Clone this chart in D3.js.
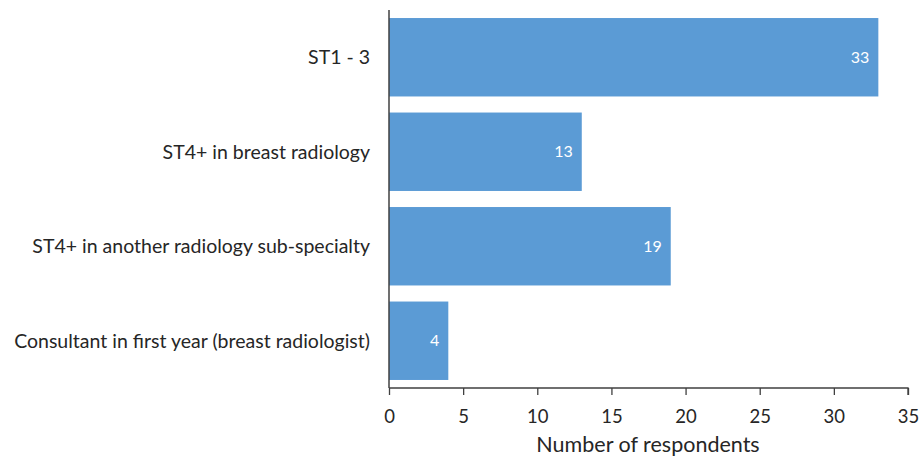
<!DOCTYPE html>
<html>
<head>
<meta charset="utf-8">
<script src="https://cdn.jsdelivr.net/npm/d3@7"></script>
<style>
  body { margin: 0; background: #fff; }
  svg text { font-family: Lato, "Open Sans", sans-serif; fill: #262626; }
</style>
</head>
<body>
<svg width="919" height="457"></svg>
<script>
// categories and counts, top to bottom
var categories = ["ST1 - 3", "ST4+ in breast radiology", "ST4+ in another radiology sub-specialty", "Consultant in first year (breast radiologist)"];
var counts = [33, 13, 19, 4];
var xTicks = [0, 5, 10, 15, 20, 25, 30, 35];
var xTitle = "Number of respondents";

var data = categories.map(function(c, i) { return {name: c, value: counts[i]}; });

var svg = d3.select("svg");
var plotLeft = 389, plotRight = 908, plotTop = 10, plotBottom = 388;

var x = d3.scaleLinear().domain([0, 35]).range([plotLeft, plotRight]);
var y = d3.scaleBand().domain(categories).range([plotTop, plotBottom]).paddingInner(0.17).paddingOuter(0.085);

// bars
svg.selectAll("rect.bar")
  .data(data)
  .enter()
  .append("rect")
    .attr("class", "bar")
    .attr("x", x(0))
    .attr("y", function(d) { return y(d.name); })
    .attr("width", function(d) { return x(d.value) - x(0); })
    .attr("height", y.bandwidth())
    .attr("fill", "#5b9bd5");

// value labels inside bar ends
svg.selectAll("text.val")
  .data(data)
  .enter()
  .append("text")
    .attr("class", "val")
    .attr("x", function(d) { return x(d.value) - 9; })
    .attr("y", function(d) { return y(d.name) + y.bandwidth() / 2; })
    .attr("dy", "0.35em")
    .attr("text-anchor", "end")
    .style("fill", "#fff")
    .style("font-size", "16px")
    .text(function(d) { return d.value; });

// category labels
svg.selectAll("text.cat")
  .data(data)
  .enter()
  .append("text")
    .attr("class", "cat")
    .attr("x", plotLeft - 19)
    .attr("y", function(d) { return y(d.name) + y.bandwidth() / 2; })
    .attr("dy", "0.35em")
    .attr("text-anchor", "end")
    .style("font-size", "19.5px")
    .text(function(d) { return d.name; });

// x axis
var xAxis = svg.append("g")
  .attr("transform", "translate(0," + plotBottom + ")")
  .call(d3.axisBottom(x).tickValues(xTicks).tickSize(7).tickPadding(15));
xAxis.selectAll("text").style("font-size", "18.5px").style("font-family", "Lato, 'Open Sans', sans-serif").style("fill", "#262626");
xAxis.selectAll("line, path").attr("stroke", "#404040").attr("stroke-width", 1.3);
xAxis.select(".domain").attr("d", "M" + plotLeft + ",0H" + plotRight + "V7");

// y axis line
svg.append("line")
  .attr("x1", plotLeft).attr("x2", plotLeft)
  .attr("y1", plotTop).attr("y2", plotBottom)
  .attr("stroke", "#404040")
  .attr("stroke-width", 1.5);

// axis title
svg.append("text")
  .attr("x", 648)
  .attr("y", 452)
  .attr("text-anchor", "middle")
  .style("font-size", "21.5px")
  .text(xTitle);
</script>
</body>
</html>
